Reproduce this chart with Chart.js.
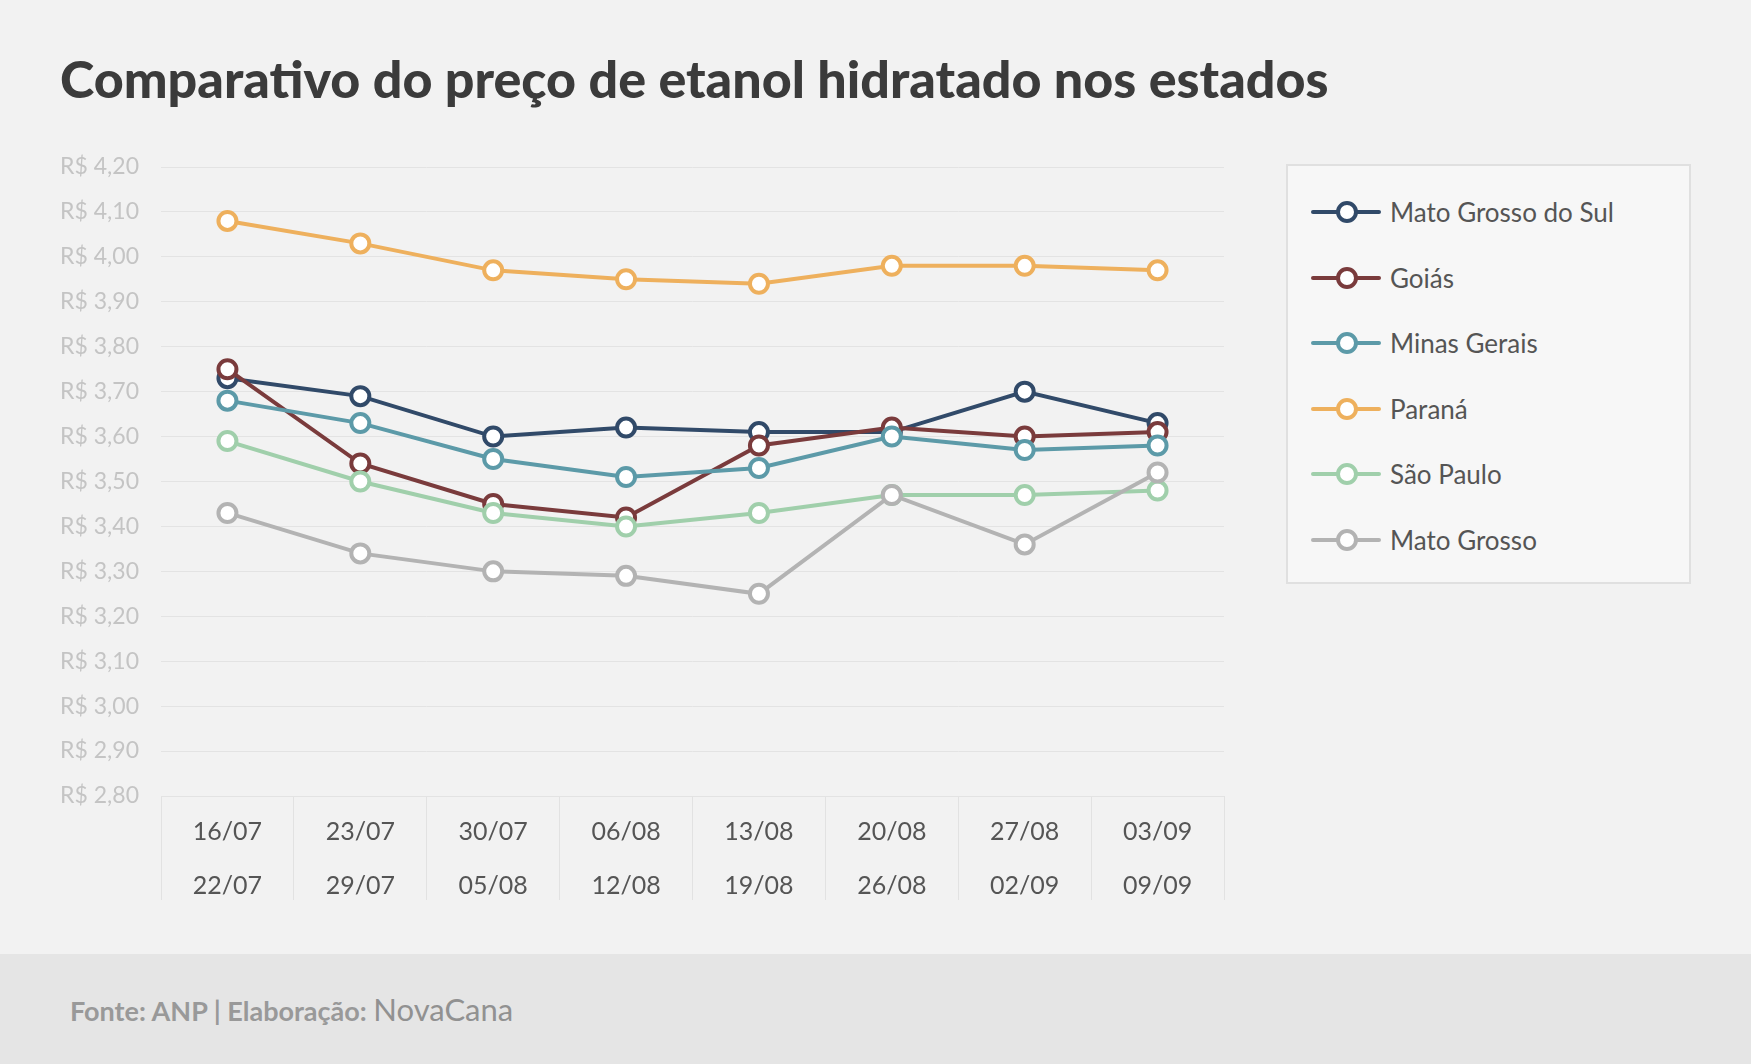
<!DOCTYPE html>
<html><head><meta charset="utf-8">
<script src="https://cdn.jsdelivr.net/npm/chart.js@4.4.0/dist/chart.umd.min.js"></script>
<style>
html,body{margin:0;padding:0;}
body{width:1751px;height:1064px;background:#f2f2f2;position:relative;overflow:hidden;font-family:Lato,'Open Sans',sans-serif;}
#title{position:absolute;left:60px;top:53px;font-size:52px;line-height:50px;font-weight:900;color:#3b3b3b;white-space:nowrap;}
#wrap{position:absolute;left:0;top:0;width:1260px;height:950px;}
#legend{position:absolute;left:1286px;top:164px;width:401px;height:416px;border:2px solid #e0e0e0;background:#f7f7f7;}
.item{position:absolute;left:21px;height:30px;display:flex;align-items:center;font-size:26px;color:#555;white-space:nowrap;}
.item svg{margin-right:7px;flex:none}
#footer{position:absolute;left:0;top:954px;width:1751px;height:110px;background:#e5e5e5;}
#src{position:absolute;left:70px;top:35px;font-size:27px;line-height:40px;color:#999;font-weight:bold;white-space:nowrap;}
#src span{font-size:31px;font-weight:normal;line-height:40px;color:#919191;}
</style></head>
<body>
<div id="title">Comparativo do preço de etanol hidratado nos estados</div>
<div id="wrap"><canvas id="c" width="1260" height="950" style="width:1260px;height:950px"></canvas></div>
<div id="legend"></div>
<div id="footer"><div id="src">Fonte: ANP | Elaboração: <span>NovaCana</span></div></div>
<script>
const weekStart = ['16/07','23/07','30/07','06/08','13/08','20/08','27/08','03/09'];
const weekEnd   = ['22/07','29/07','05/08','12/08','19/08','26/08','02/09','09/09'];

const seriesNames = ['Mato Grosso do Sul','Goiás','Minas Gerais','Paraná','São Paulo','Mato Grosso'];
const matoGrossoDoSul = [3.73,3.69,3.60,3.62,3.61,3.61,3.70,3.63];
const goias           = [3.75,3.54,3.45,3.42,3.58,3.62,3.60,3.61];
const minasGerais     = [3.68,3.63,3.55,3.51,3.53,3.60,3.57,3.58];
const parana          = [4.08,4.03,3.97,3.95,3.94,3.98,3.98,3.97];
const saoPaulo        = [3.59,3.50,3.43,3.40,3.43,3.47,3.47,3.48];
const matoGrosso      = [3.43,3.34,3.30,3.29,3.25,3.47,3.36,3.52];

const yMin = 2.80, yMax = 4.20, yStep = 0.10;

const seriesValues = [matoGrossoDoSul, goias, minasGerais, parana, saoPaulo, matoGrosso];
const seriesColors = ['#314a69','#7a3b3c','#5c9aa8','#eeb05d','#a0cfab','#b3b3b3'];

const labels = weekStart.map((s,i)=>[s, weekEnd[i]]);

const datasets = seriesNames.map((name,i)=>({
  label: name,
  data: seriesValues[i],
  borderColor: seriesColors[i],
  backgroundColor: '#ffffff',
  pointBackgroundColor: '#ffffff',
  pointBorderColor: seriesColors[i],
  borderWidth: 4,
  pointBorderWidth: 4,
  pointRadius: 9,
  pointHoverRadius: 9,
  tension: 0,
  fill: false,
  clip: false,
  order: seriesNames.length - i
}));

new Chart(document.getElementById('c'), {
  type: 'line',
  data: { labels, datasets },
  options: {
    responsive: false,
    animation: false,
    events: [],
    devicePixelRatio: 1,
    layout: { padding: { top: 167, right: 36, left: 0, bottom: 0 } },
    plugins: { legend: { display: false }, tooltip: { enabled: false } },
    scales: {
      x: {
        type: 'category',
        offset: true,
        grid: { offset: true, drawOnChartArea: false, drawTicks: true, tickLength: 104,
                color: '#e2e2e2', tickColor: '#e2e2e2', lineWidth: 1, tickWidth: 1 },
        border: { display: false },
        ticks: { font: { family: 'Lato', size: 25, lineHeight: 54/25 }, color: '#555555',
                 padding: -95.5, maxRotation: 0, minRotation: 0, autoSkip: false },
        afterFit: s => { s.height = 154; }
      },
      y: {
        min: yMin, max: yMax,
        ticks: { stepSize: yStep, font: { family: 'Lato', size: 23 }, color: '#c4c4c4', padding: 22,
                 callback: v => 'R$ ' + Number(v).toFixed(2).replace('.', ',') },
        grid: { color: '#e3e3e3', drawTicks: false, lineWidth: 1 },
        border: { display: false },
        afterFit: s => { s.width = 161; }
      }
    }
  }
});

// HTML legend
const legend = document.getElementById('legend');
const rowCenters = [46,112,177,243,308,374];
seriesNames.forEach((name,i)=>{
  const d = document.createElement('div');
  d.className = 'item';
  d.style.top = (rowCenters[i]-15) + 'px';
  const c = seriesColors[i];
  d.innerHTML = '<svg width="74" height="30" viewBox="0 0 74 30"><line x1="4" y1="15" x2="70" y2="15" stroke="'+c+'" stroke-width="4" stroke-linecap="round"/><circle cx="38" cy="15" r="9" fill="#fff" stroke="'+c+'" stroke-width="4"/></svg><span></span>';
  d.querySelector('span').textContent = name;
  legend.appendChild(d);
});
</script>
</body></html>
